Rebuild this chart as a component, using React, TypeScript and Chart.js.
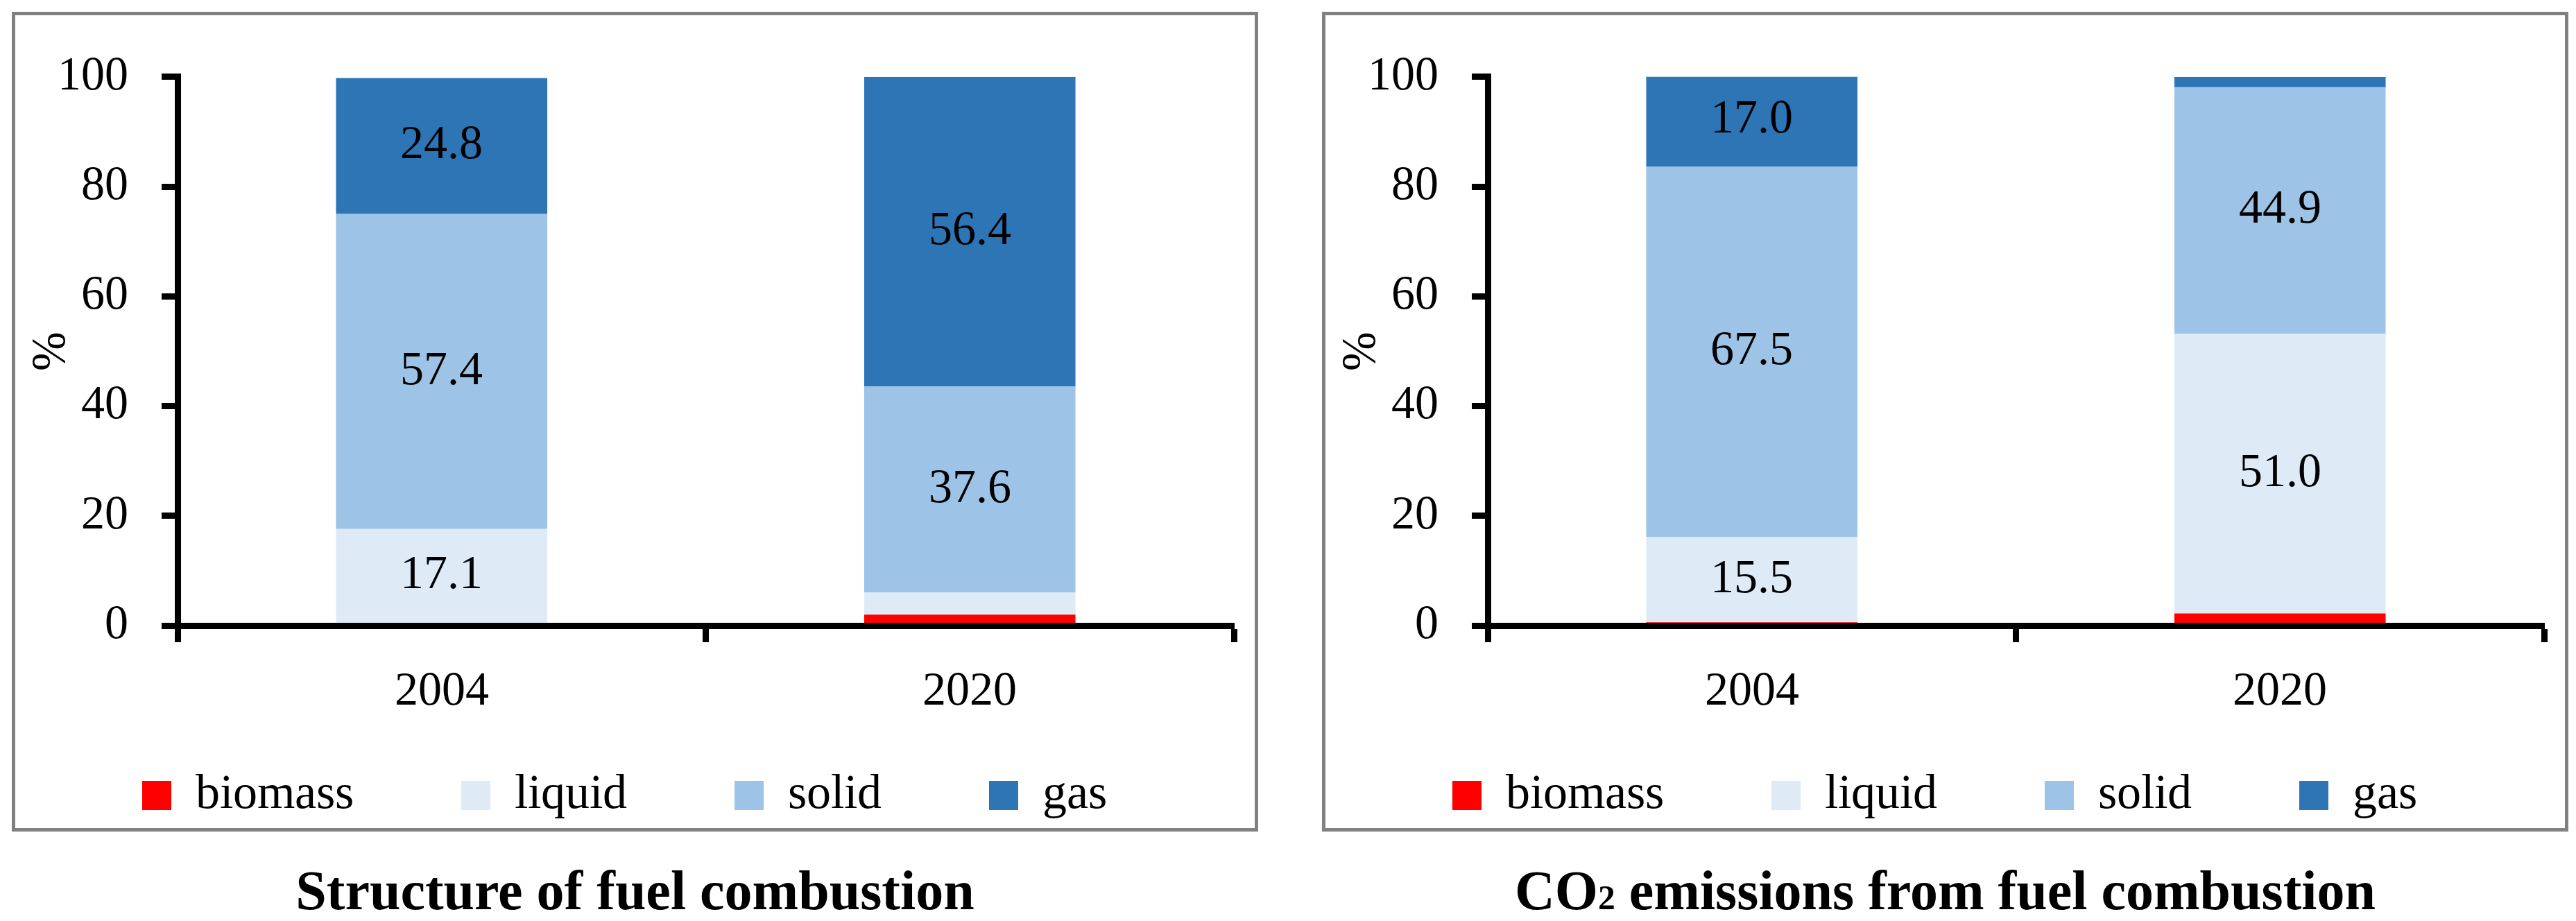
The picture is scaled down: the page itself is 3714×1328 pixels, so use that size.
import React, { useEffect, useRef } from "react";
import { Chart, registerables } from "chart.js";

Chart.register(...registerables);

// ---------- data ----------
const categories = ["2004", "2020"];
const seriesNames = ["biomass", "liquid", "solid", "gas"];
const seriesColors = ["#FF0000", "#DEEBF7", "#9DC3E6", "#2E75B6"];

// Structure of fuel combustion (%)
const fuelBiomass = [0.5, 2.0];
const fuelLiquid = [17.1, 4.0];
const fuelSolid = [57.4, 37.6];
const fuelGas = [24.8, 56.4];

// CO2 emissions from fuel combustion (%)
const co2Biomass = [0.6, 2.2];
const co2Liquid = [15.5, 51.0];
const co2Solid = [67.5, 44.9];
const co2Gas = [17.0, 1.9];

const yTicks = [0, 20, 40, 60, 80, 100];
const yAxisTitle = "%";
const labelMin = 5; // segments smaller than this carry no value label

const FONT = '"LibSerifLocal", "Liberation Serif", "Times New Roman", serif';

const CANVAS_W = 1787;
const CANVAS_H = 1172;

let fontPromise: Promise<any> | null = null;
function loadSerif(): Promise<any> {
  if (fontPromise) return fontPromise;
  try {
    const FF = (window as any).FontFace;
    const fonts = (document as any).fonts;
    if (!FF || !fonts) return (fontPromise = Promise.resolve());
    const reg = new FF(
      "LibSerifLocal",
      'local("Liberation Serif"), local("LiberationSerif"), local("Liberation Serif Regular"), local("LiberationSerif-Regular")',
      { weight: "400" }
    );
    const bold = new FF(
      "LibSerifLocal",
      'local("Liberation Serif Bold"), local("LiberationSerif-Bold")',
      { weight: "700" }
    );
    fonts.add(reg);
    fonts.add(bold);
    fontPromise = Promise.all([
      reg.load().catch(() => null),
      bold.load().catch(() => null),
    ]);
  } catch (e) {
    fontPromise = Promise.resolve();
  }
  return fontPromise;
}

const valueLabelPlugin = {
  id: "valueLabels",
  afterDatasetsDraw(chart: any) {
    const { ctx } = chart;
    ctx.save();
    ctx.font = `68px ${FONT}`;
    ctx.fillStyle = "#000";
    ctx.textAlign = "center";
    ctx.textBaseline = "middle";
    chart.data.datasets.forEach((ds: any, di: number) => {
      const meta = chart.getDatasetMeta(di);
      meta.data.forEach((el: any, i: number) => {
        const v = ds.data[i];
        if (v < labelMin) return;
        const cy = (el.y + el.base) / 2;
        ctx.fillText(v.toFixed(1), el.x, cy);
      });
    });
    ctx.restore();
  },
};

function StackChart({ series }: { series: number[][] }) {
  const ref = useRef<HTMLCanvasElement | null>(null);
  useEffect(() => {
    if (!ref.current) return;
    const chart = new Chart(ref.current, {
      type: "bar",
      data: {
        labels: categories,
        datasets: series.map((d, i) => ({
          label: seriesNames[i],
          data: d,
          backgroundColor: seriesColors[i],
          borderWidth: 0,
          barPercentage: 0.4,
          categoryPercentage: 1.0,
        })),
      },
      options: {
        animation: false,
        responsive: false,
        devicePixelRatio: 1,
        layout: { padding: { left: 0, top: 82, right: 30, bottom: 2 } },
        plugins: {
          legend: {
            position: "bottom",
            labels: {
              boxWidth: 42,
              boxHeight: 42,
              padding: 155,
              color: "#000",
              font: { family: FONT, size: 70 },
            },
          },
          tooltip: { enabled: false },
          title: { display: false },
        },
        scales: {
          x: {
            stacked: true,
            afterFit: (s: any) => {
              s.height = 55;
              // let the category labels extend below the (short) scale box
              s._computeLabelArea = () => undefined;
            },
            grid: {
              display: true,
              drawOnChartArea: false,
              drawTicks: true,
              tickLength: 24,
              tickWidth: 9,
              tickColor: "#000",
            },
            border: { display: true, color: "#000", width: 9, z: 1 },
            ticks: {
              color: "#000",
              padding: 31,
              font: { family: FONT, size: 68 },
            },
          },
          y: {
            stacked: true,
            min: 0,
            max: 100,
            afterFit: (s: any) => {
              s.width = 234;
            },
            afterBuildTicks: (s: any) => {
              s.ticks = yTicks.map((v) => ({ value: v }));
            },
            grid: {
              display: true,
              drawOnChartArea: false,
              drawTicks: true,
              tickLength: 23,
              tickWidth: 9,
              tickColor: "#000",
            },
            border: { display: true, color: "#000", width: 9, z: 1 },
            ticks: {
              color: "#000",
              padding: 48,
              font: { family: FONT, size: 68 },
            },
            title: {
              display: true,
              text: yAxisTitle,
              color: "#000",
              padding: { top: 12, bottom: 0 },
              font: { family: FONT, size: 68 },
            },
          },
        },
      },
      plugins: [valueLabelPlugin],
    } as any);
    let alive = true;
    loadSerif().then(() => {
      if (alive) chart.update();
    });
    const t = setTimeout(() => {
      if (alive) chart.update();
    }, 400);
    return () => {
      alive = false;
      clearTimeout(t);
      chart.destroy();
    };
  }, [series]);
  return (
    <canvas
      ref={ref}
      width={CANVAS_W}
      height={CANVAS_H}
      style={{ width: CANVAS_W, height: CANVAS_H, display: "block" }}
    />
  );
}

const fuelSeries = [fuelBiomass, fuelLiquid, fuelSolid, fuelGas];
const co2Series = [co2Biomass, co2Liquid, co2Solid, co2Gas];

function Panel({
  left,
  series,
  title,
}: {
  left: number;
  series: number[][];
  title: React.ReactNode;
}) {
  return (
    <>
      <div
        style={{
          position: "absolute",
          left,
          top: 17,
          width: 1797,
          height: 1182,
          boxSizing: "border-box",
          border: "5px solid #808080",
          background: "#fff",
        }}
      >
        <StackChart series={series} />
      </div>
      <div
        style={{
          position: "absolute",
          left,
          top: 1244,
          width: 1797,
          textAlign: "center",
          fontFamily: '"Liberation Serif", "Times New Roman", serif',
          fontWeight: "bold",
          fontSize: 80,
          lineHeight: "80px",
          color: "#000",
          whiteSpace: "nowrap",
        }}
      >
        {title}
      </div>
    </>
  );
}

export default function App() {
  return (
    <div
      style={{
        position: "fixed",
        left: 0,
        top: 0,
        width: 3714,
        height: 1328,
        background: "#fff",
        overflow: "hidden",
        fontFamily: '"Liberation Serif", "Times New Roman", serif',
      }}
    >
      <Panel left={17} series={fuelSeries} title="Structure of fuel combustion" />
      <Panel
        left={1906}
        series={co2Series}
        title={
          <>
            CO<span style={{ fontSize: "0.62em" }}>2</span> emissions from fuel combustion
          </>
        }
      />
    </div>
  );
}
